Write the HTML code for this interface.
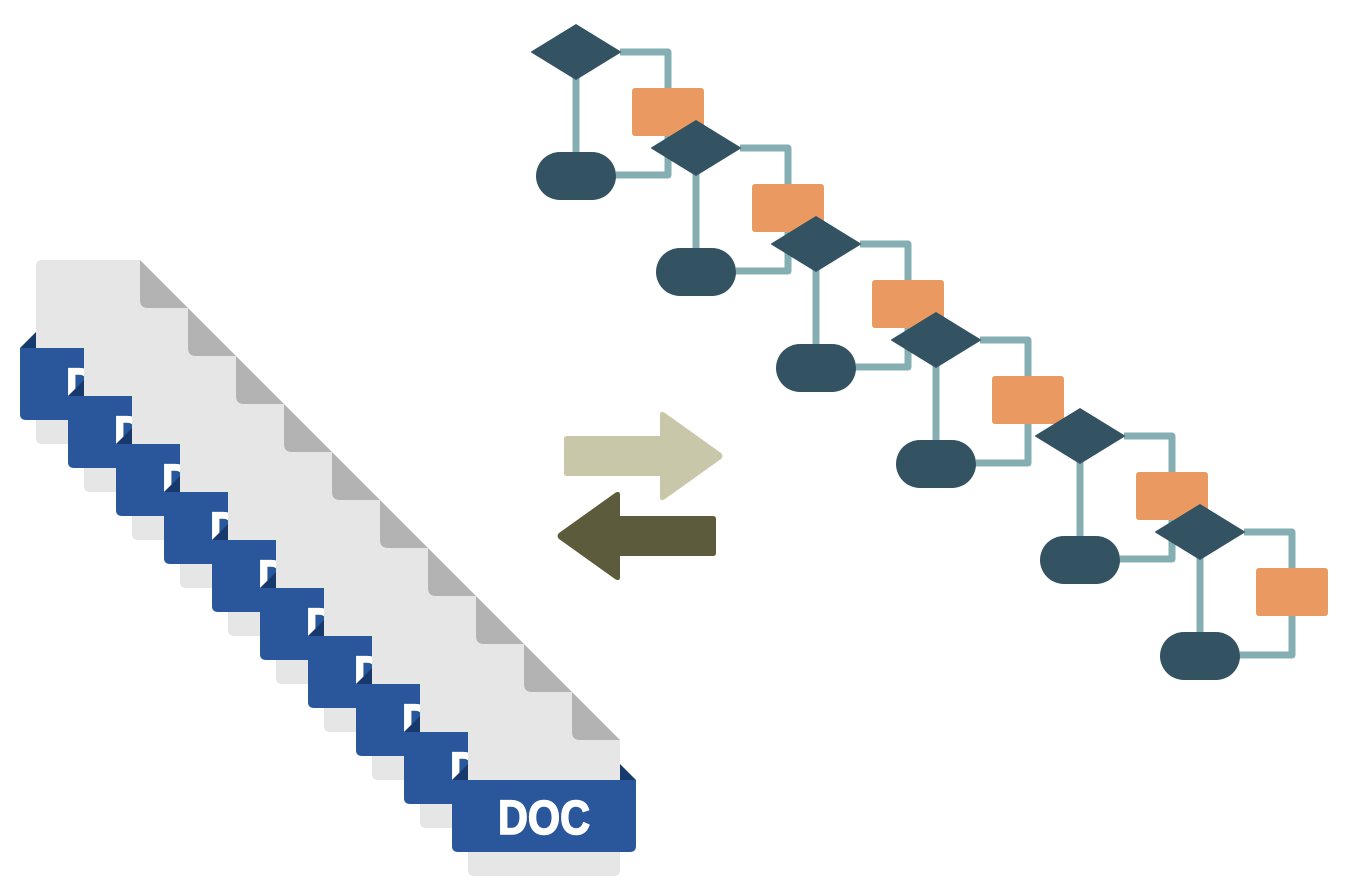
<!DOCTYPE html>
<html><head><meta charset="utf-8"><style>html,body{margin:0;padding:0;background:#fff}svg{display:block}</style></head>
<body>
<svg width="1352" height="896" viewBox="0 0 1352 896" xmlns="http://www.w3.org/2000/svg">
<defs>
<g id="doc">
  <path d="M42,260 H140 L188,308 V438 Q188,444 182,444 H42 Q36,444 36,438 V266 Q36,260 42,260 Z" fill="#e6e6e6"/>
  <path d="M140,260 L188,308 H148 Q140,308 140,300 Z" fill="#b3b3b3"/>
  <path d="M20,348 L36,332 V348 Z" fill="#163a6e"/>
  <path d="M188,348 L188,332 L204,348 Z" fill="#163a6e"/>
  <path d="M20,348 H204 V414 Q204,420 198,420 H26 Q20,420 20,414 Z" fill="#2a569b"/>
  <text x="66" y="402" font-family="Liberation Sans, sans-serif" font-weight="bold" font-size="48" fill="#fff" stroke="#fff" stroke-width="1.6" textLength="92" lengthAdjust="spacingAndGlyphs">DOC</text>
</g>
<g id="unit">
  <polyline points="620,52 668,52 668,175 616,175" fill="none" stroke="#84aeb2" stroke-width="7" stroke-linejoin="round"/>
  <line x1="576" y1="70" x2="576" y2="160" stroke="#84aeb2" stroke-width="7"/>
  <rect x="632" y="88" width="72" height="48" rx="3" fill="#ea9a60"/>
  <path d="M576,24 L620,51 Q622,52 620,53 L576,80 L532,53 Q530,52 532,51 Z" fill="#335262"/>
  <rect x="536" y="152" width="80" height="48" rx="24" fill="#335262"/>
</g>
</defs>
<use href="#doc" x="0" y="0"/>
<use href="#doc" x="48" y="48"/>
<use href="#doc" x="96" y="96"/>
<use href="#doc" x="144" y="144"/>
<use href="#doc" x="192" y="192"/>
<use href="#doc" x="240" y="240"/>
<use href="#doc" x="288" y="288"/>
<use href="#doc" x="336" y="336"/>
<use href="#doc" x="384" y="384"/>
<use href="#doc" x="432" y="432"/>

<use href="#unit" x="0" y="0"/>
<use href="#unit" x="120" y="96"/>
<use href="#unit" x="240" y="192"/>
<use href="#unit" x="360" y="288"/>
<use href="#unit" x="504" y="384"/>
<use href="#unit" x="624" y="480"/>

<path d="M567,436 H660 V415 Q660,410 665,413 L721,453 Q724,456 721,459 L665,499 Q660,502 660,497 V476 H567 Q564,476 564,473 V439 Q564,436 567,436 Z" fill="#c8c7aa"/>
<path d="M713,516 H620 V495 Q620,490 615,493 L559,533 Q556,536 559,539 L615,579 Q620,582 620,577 V556 H713 Q716,556 716,553 V519 Q716,516 713,516 Z" fill="#5c5c3c"/>
</svg>
</body></html>
